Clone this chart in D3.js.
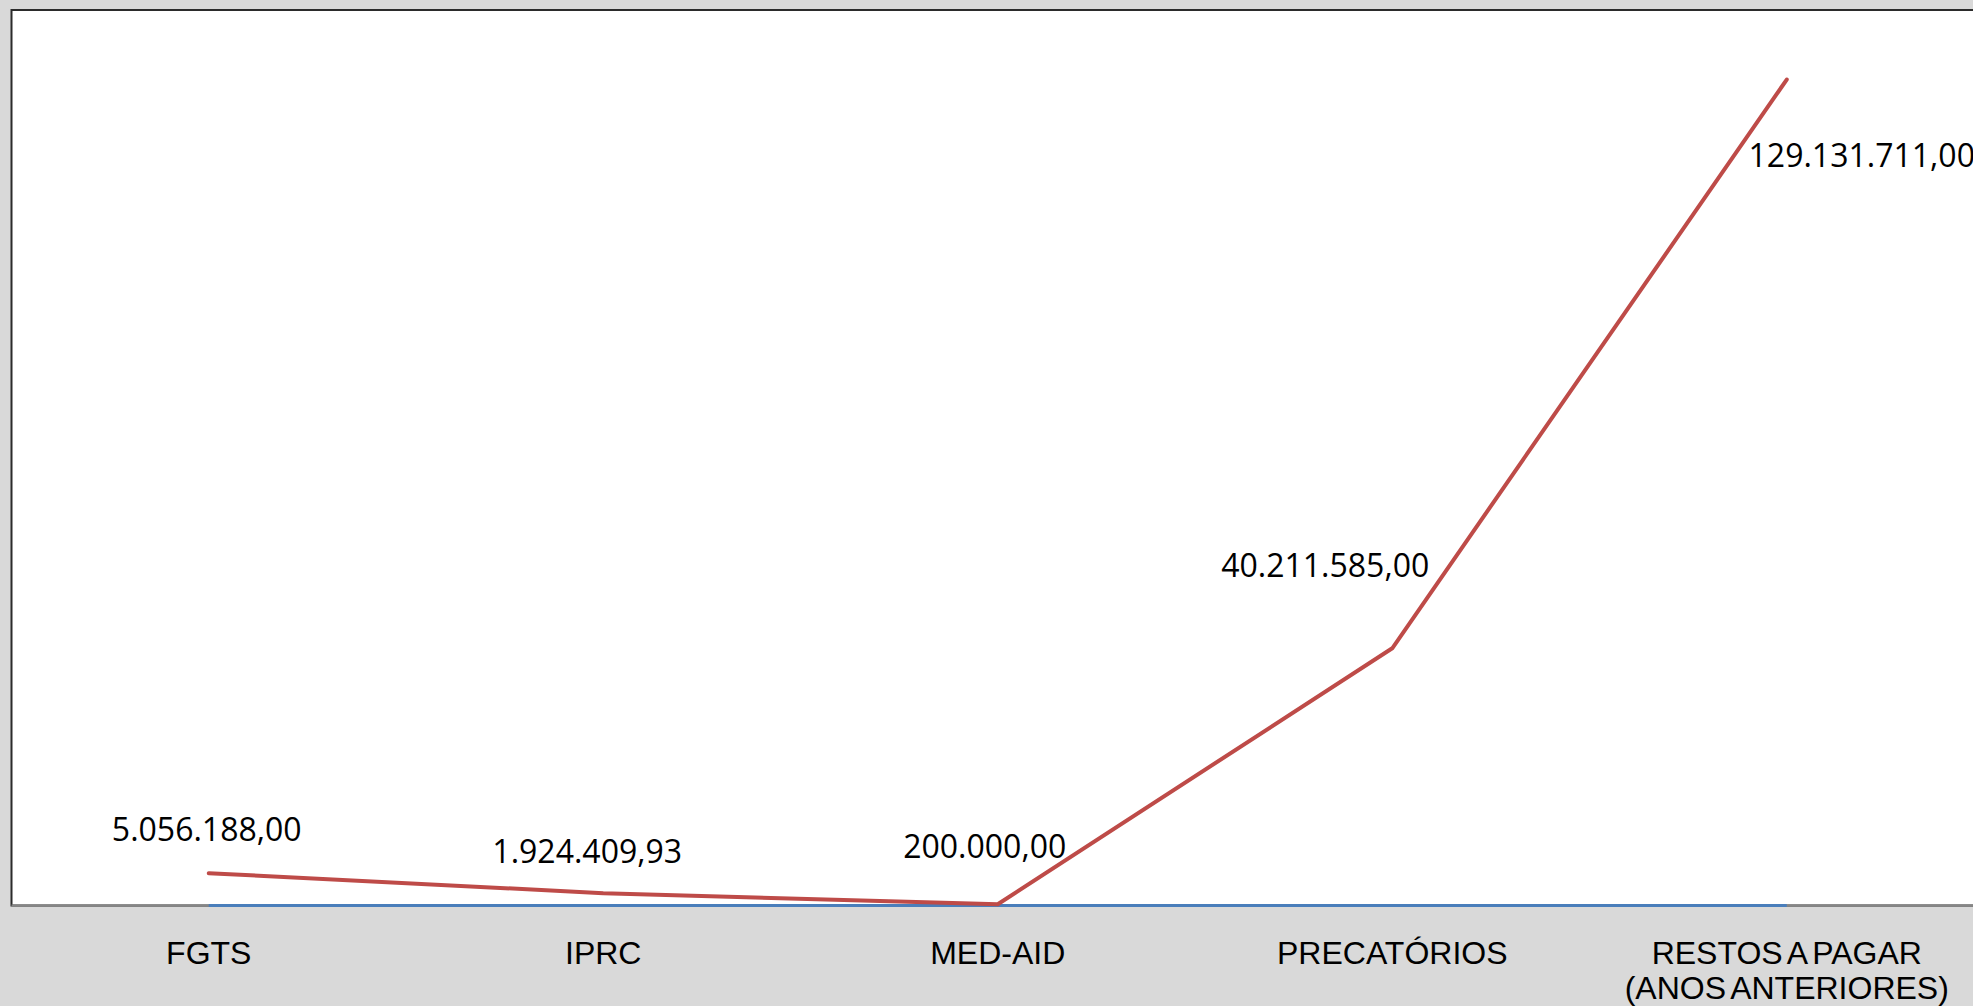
<!DOCTYPE html>
<html>
<head>
<meta charset="utf-8">
<script src="https://cdn.jsdelivr.net/npm/d3@7"></script>
<style>
  body { margin: 0; background: #D9D9D9; }
  svg { display: block; }
</style>
</head>
<body>
<svg id="mainsvg" width="1973" height="1006"></svg>
<script>

// dados
const categorias = ["FGTS", "IPRC", "MED-AID", "PRECATÓRIOS", "RESTOS A PAGAR\n(ANOS ANTERIORES)"]
const valores = [5056188.00, 1924409.93, 200000.00, 40211585.00, 129131711.00]
const valoresBase = [0, 0, 0, 0, 0]
const rotulos = ["5.056.188,00", "1.924.409,93", "200.000,00", "40.211.585,00", "129.131.711,00"]

// deslocamento dos rótulos em relação ao ponto (layout)
const labelOffset = [[-2, -32], [-16, -30], [-13, -46], [-67, -71], [75, 87]]

const WIDTH = 1973
const HEIGHT = 1006
const PLOT = {left: 11.5, top: 10, bottom: 905.5, right: 1984}

let svg = d3.select("#mainsvg")

svg.append("rect")
.attr("x", 0).attr("y", 0)
.attr("width", WIDTH).attr("height", HEIGHT)
.attr("fill", "#D9D9D9")

svg.append("rect")
.attr("x", PLOT.left).attr("y", PLOT.top)
.attr("width", PLOT.right - PLOT.left)
.attr("height", PLOT.bottom - PLOT.top)
.attr("fill", "#FFFFFF")
.attr("stroke", "#2B2B2B")
.attr("stroke-width", 2)

let x = d3.scaleBand()
.domain(categorias)
.range([PLOT.left, PLOT.right])
.padding(0)

let y = d3.scaleLinear()
.domain([0, 140000000])
.range([PLOT.bottom, PLOT.top])

const cx = d => x(d) + x.bandwidth() / 2

// eixo x (linha cinza)
svg.append("line")
.attr("x1", PLOT.left).attr("x2", WIDTH)
.attr("y1", y(0)).attr("y2", y(0))
.attr("stroke", "#868686")
.attr("stroke-width", 2)

let line = d3.line()
.x((d, i) => cx(categorias[i]))
.y(d => y(d))

// série azul (zeros)
svg.append("path")
.datum(valoresBase)
.attr("fill", "none")
.attr("stroke", "#4A7EBB")
.attr("stroke-width", 3)
.attr("d", line)

// série vermelha
svg.append("path")
.datum(valores)
.attr("fill", "none")
.attr("stroke", "#BE4B48")
.attr("stroke-width", 4)
.attr("stroke-linejoin", "round")
.attr("stroke-linecap", "round")
.attr("d", line)

// rótulos de dados
svg.selectAll(".data_label")
.data(valores)
.enter()
.append("text")
.attr("class", "data_label")
.attr("x", (d, i) => cx(categorias[i]) + labelOffset[i][0])
.attr("y", (d, i) => y(d) + labelOffset[i][1])
.attr("text-anchor", "middle")
.attr("font-family", "'Open Sans', sans-serif")
.attr("font-size", 32)
.attr("fill", "#000000")
.text((d, i) => rotulos[i])

// rótulos das categorias
let catText = svg.selectAll(".cat_label")
.data(categorias)
.enter()
.append("text")
.attr("class", "cat_label")
.attr("text-anchor", "middle")
.attr("font-family", "'Liberation Sans', Arial, sans-serif")
.attr("font-size", 32)
.attr("fill", "#000000")

catText.selectAll("tspan")
.data(d => d.split("\n").map(t => ({t: t, c: d})))
.enter()
.append("tspan")
.attr("x", d => cx(d.c))
.attr("y", (d, i) => 964 + i * 35)
.attr("word-spacing", -3)
.text(d => d.t)

</script>
</body>
</html>
